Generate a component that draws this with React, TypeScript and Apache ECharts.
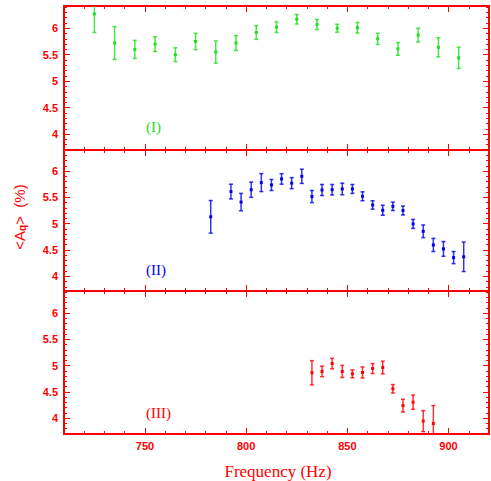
import React, { useEffect, useRef } from "react";
import * as echarts from "echarts";

// ---- data ----
const freqI = [725, 735, 745, 755, 765, 775, 785, 795, 805, 815, 825, 835, 845, 855, 865, 875, 885, 895, 905];
const valI = [6.27, 5.72, 5.6, 5.7, 5.5, 5.75, 5.55, 5.72, 5.92, 6.02, 6.17, 6.07, 6.0, 6.01, 5.8, 5.61, 5.87, 5.64, 5.44];
const errI = [0.35, 0.31, 0.17, 0.14, 0.13, 0.155, 0.21, 0.14, 0.13, 0.1, 0.09, 0.095, 0.075, 0.1, 0.105, 0.12, 0.13, 0.18, 0.2];

const freqII = [782.5, 792.5, 797.5, 802.5, 807.5, 812.5, 817.5, 822.5, 827.5, 832.5, 837.5, 842.5, 847.5, 852.5, 857.5, 862.5, 867.5, 872.5, 877.5, 882.5, 887.5, 892.5, 897.5, 902.5, 907.5];
const valII = [5.13, 5.61, 5.41, 5.645, 5.78, 5.735, 5.85, 5.77, 5.9, 5.515, 5.64, 5.645, 5.66, 5.66, 5.52, 5.355, 5.255, 5.33, 5.25, 4.995, 4.855, 4.595, 4.52, 4.355, 4.37];
const errII = [0.31, 0.14, 0.165, 0.145, 0.17, 0.105, 0.1, 0.105, 0.135, 0.115, 0.105, 0.1, 0.11, 0.085, 0.085, 0.08, 0.095, 0.08, 0.085, 0.085, 0.12, 0.125, 0.14, 0.115, 0.28];

const freqIII = [832.5, 837.5, 842.5, 847.5, 852.5, 857.5, 862.5, 867.5, 872.5, 877.5, 882.5, 887.5, 892.5];
const valIII = [4.865, 4.89, 5.04, 4.89, 4.845, 4.87, 4.945, 4.965, 4.56, 4.24, 4.305, 3.945, 3.9];
const errIII = [0.23, 0.1, 0.1, 0.115, 0.075, 0.105, 0.095, 0.12, 0.08, 0.12, 0.135, 0.2, 0.34];

// ---- ticks ----
const xMajorTicks = [750, 800, 850, 900];
const xMinorTicks = [710, 720, 730, 740, 750, 760, 770, 780, 790, 800, 810, 820, 830, 840, 850, 860, 870, 880, 890, 900, 910, 920];
const yMajorTicks = [4, 4.5, 5, 5.5, 6];
const yMinorTicks = [3.7, 3.8, 3.9, 4, 4.1, 4.2, 4.3, 4.4, 4.5, 4.6, 4.7, 4.8, 4.9, 5, 5.1, 5.2, 5.3, 5.4, 5.5, 5.6, 5.7, 5.8, 5.9, 6, 6.1, 6.2, 6.3, 6.4];

const panelLabels = ["(I)", "(II)", "(III)"];

const RED = "#ff0000";
const GREEN = "#1ee01e";
const BLUE = "#0000ee";

const panels = [
  { top: 6, height: 144, ymin: 3.7, ymax: 6.42, f: freqI, v: valI, e: errI, color: GREEN },
  { top: 150, height: 141, ymin: 3.72, ymax: 6.4, f: freqII, v: valII, e: errII, color: BLUE },
  { top: 291, height: 143, ymin: 3.7, ymax: 6.42, f: freqIII, v: valIII, e: errIII, color: RED },
];

export default function App() {
  const ref = useRef<HTMLDivElement>(null);
  useEffect(() => {
    if (!ref.current) return;
    const chart = echarts.init(ref.current, null, { renderer: "svg" });
    const grids: any[] = [];
    const xAxes: any[] = [];
    const yAxes: any[] = [];
    const series: any[] = [];
    const graphics: any[] = [];
    const labelFont = { color: RED, fontFamily: "Liberation Sans, Arial, sans-serif", fontWeight: "bold", fontSize: 11 };

    panels.forEach((p, i) => {
      grids.push({ left: 64, right: 2, top: p.top, height: p.height, containLabel: false });
      const mkX = (position: string, major: boolean, showLine: boolean, showLabel: boolean) => ({
        type: "value",
        gridIndex: i,
        position,
        min: 710,
        max: 920,
        axisLine: { show: showLine, onZero: false, lineStyle: { color: RED, width: 2 } },
        axisTick: {
          show: true,
          inside: true,
          length: major ? 6 : 3,
          customValues: major ? xMajorTicks : xMinorTicks,
          lineStyle: { color: RED, width: 1 },
        },
        axisLabel: { show: showLabel, customValues: xMajorTicks, margin: 6, ...labelFont },
        splitLine: { show: false },
      });
      xAxes.push(mkX("bottom", false, true, i === 2));
      xAxes.push(mkX("bottom", true, false, false));
      xAxes.push(mkX("top", false, true, false));
      xAxes.push(mkX("top", true, false, false));
      const mkY = (position: string, major: boolean, showLine: boolean, showLabel: boolean) => ({
        type: "value",
        gridIndex: i,
        position,
        min: p.ymin,
        max: p.ymax,
        axisLine: { show: showLine, onZero: false, lineStyle: { color: RED, width: 2 } },
        axisTick: {
          show: true,
          inside: true,
          length: major ? 6 : 3,
          customValues: major ? yMajorTicks : yMinorTicks,
          lineStyle: { color: RED, width: 1 },
        },
        axisLabel: {
          show: showLabel,
          customValues: yMajorTicks,
          margin: 6,
          formatter: (val: number) => String(val),
          ...labelFont,
        },
        splitLine: { show: false },
      });
      yAxes.push(mkY("left", false, true, true));
      yAxes.push(mkY("left", true, false, false));
      yAxes.push(mkY("right", false, true, false));
      yAxes.push(mkY("right", true, false, false));

      const data = p.f.map((f, k) => [f, p.v[k], p.e[k]]);
      const color = p.color;
      series.push({
        type: "custom",
        xAxisIndex: 4 * i,
        yAxisIndex: 4 * i,
        clip: true,
        data,
        renderItem: (params: any, api: any) => {
          const x = api.value(0);
          const y = api.value(1);
          const e = api.value(2);
          const c = api.coord([x, y]);
          const hi = api.coord([x, y + e]);
          const lo = api.coord([x, y - e]);
          const cw = 2;
          const st = { stroke: color, lineWidth: 1.5, opacity: 0.8 };
          return {
            type: "group",
            children: [
              { type: "line", shape: { x1: c[0], y1: hi[1], x2: c[0], y2: lo[1] }, style: st },
              { type: "line", shape: { x1: c[0] - cw, y1: hi[1], x2: c[0] + cw, y2: hi[1] }, style: st },
              { type: "line", shape: { x1: c[0] - cw, y1: lo[1], x2: c[0] + cw, y2: lo[1] }, style: st },
              { type: "rect", shape: { x: c[0] - 1.5, y: c[1] - 1.5, width: 3, height: 3 }, style: { fill: color } },
            ],
          };
        },
      });
    });

    const labelPos = [127, 270, 413];
    panelLabels.forEach((t, i) => {
      graphics.push({
        type: "text",
        left: 146,
        top: labelPos[i] - 8,
        style: {
          text: t,
          fill: panels[i].color,
          font: "15px 'Liberation Serif', 'Times New Roman', serif",
        },
      });
    });
    graphics.push({
      type: "text",
      x: 278,
      y: 471,
      style: {
        text: "Frequency (Hz)",
        fill: RED,
        font: "17px 'Liberation Serif', 'Times New Roman', serif",
        align: "center",
        verticalAlign: "middle",
      },
    });
    graphics.push({
      type: "text",
      x: 19,
      y: 217,
      rotation: Math.PI / 2,
      style: {
        text: "{a|<A}{s|q}{a|>  (%)}",
        align: "center",
        verticalAlign: "middle",
        rich: {
          a: { fill: RED, fontSize: 15, fontFamily: "Liberation Sans, Arial, sans-serif", verticalAlign: "middle" },
          s: { fill: RED, fontSize: 10, fontWeight: "bold", fontFamily: "Liberation Sans, Arial, sans-serif", padding: [6, 0, 0, 0] },
        },
      },
    });

    chart.setOption({
      animation: false,
      backgroundColor: "#ffffff",
      grid: grids,
      xAxis: xAxes,
      yAxis: yAxes,
      series,
      graphic: graphics,
    });
    return () => chart.dispose();
  }, []);
  return <div ref={ref} style={{ position: "absolute", left: 0, top: 0, width: 491, height: 481 }} />;
}
